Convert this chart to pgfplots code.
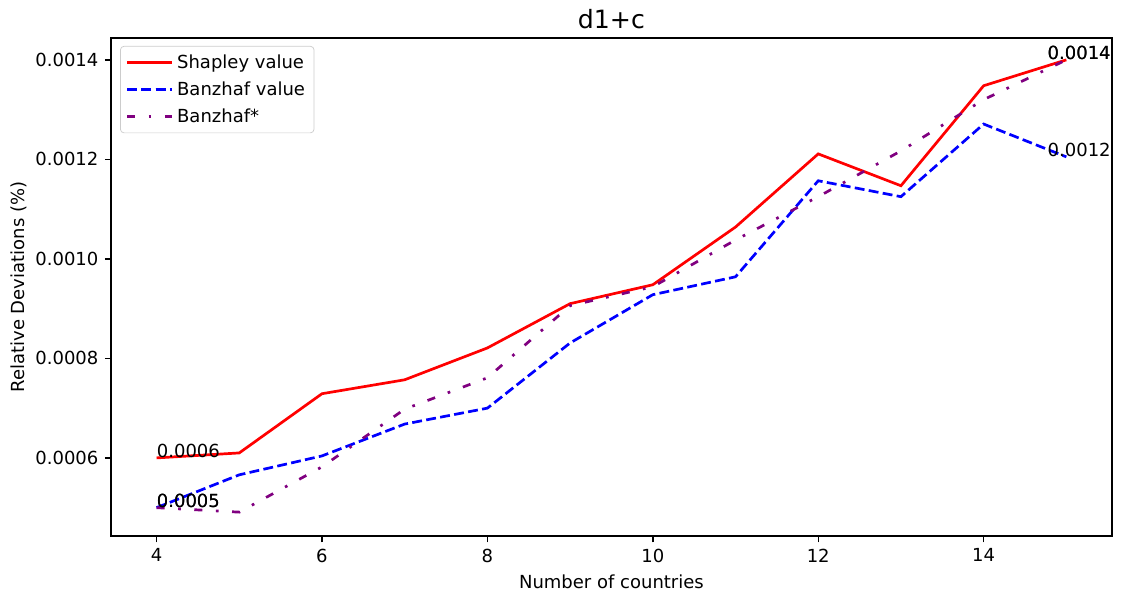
\documentclass[border=0pt]{standalone}
\usepackage{fontspec}
\setmainfont{DejaVu Sans}
\usepackage{pgfplots}
\pgfplotsset{compat=1.18}

\definecolor{mplpurple}{RGB}{128,0,128}

\begin{document}
\begin{tikzpicture}
\useasboundingbox (-61.7pt,-32.8pt) rectangle (563.3pt,297.8pt);
\begin{axis}[
    scale only axis,
    width=556pt, height=276.7pt,
    xmin=3.45, xmax=15.55, ymin=0.000443, ymax=0.001444,
    xtick={4,6,8,10,12,14},
    ytick={0.0006,0.0008,0.0010,0.0012,0.0014},
    scaled y ticks=false,
    yticklabel style={/pgf/number format/.cd, fixed, fixed zerofill, precision=4},
    /pgf/number format/assume math mode=true,
    tick align=outside,
    xtick pos=bottom, ytick pos=left,
    major tick length=3.5pt,
    tick style={black, line width=0.8pt},
    axis line style={line width=0.8pt},
    tick label style={font=\fontsize{10}{12}\selectfont},
    label style={font=\fontsize{10}{12}\selectfont},
    xlabel={Number of countries},
    ylabel={Relative Deviations (\%)},
    ylabel shift=-2.2pt,
    title={d1+c},
    every axis title/.style={font=\fontsize{14}{16}\selectfont, at={(0.5,1)}, anchor=base, yshift=5.5pt},
    clip=false,
    legend style={font=\fontsize{10}{12}\selectfont, draw=black!20, rounded corners=2pt,
                  at={(0.009,0.984)}, anchor=north west, row sep=1.9pt,
                  inner xsep=3pt, inner ysep=2.5pt,
                  cells={anchor=west}},
    legend image code/.code={\draw[#1] (0pt,0pt) -- (21pt,0pt);
                             \path (0pt,0pt) -- (25pt,0pt);},
    every axis plot/.append style={line width=1.5pt, line cap=butt},
  ]
\addplot[red] coordinates {
  (4,0.000600) (5,0.000610) (6,0.000729) (7,0.000757) (8,0.000821) (9,0.000910)
  (10,0.000948) (11,0.001064) (12,0.001211) (13,0.001147) (14,0.001348) (15,0.001400)};
\addlegendentry{Shapley value}
\addplot[blue, dash pattern=on 5.5pt off 2.4pt] coordinates {
  (4,0.000500) (5,0.000566) (6,0.000604) (7,0.000668) (8,0.000700) (9,0.000831)
  (10,0.000928) (11,0.000964) (12,0.001157) (13,0.001125) (14,0.001271) (15,0.001205)};
\addlegendentry{Banzhaf value}
\addplot[mplpurple, dash pattern=on 4.5pt off 7.5pt on 1.5pt off 7.5pt] coordinates {
  (4,0.000500) (5,0.000491) (6,0.000582) (7,0.000698) (8,0.000761) (9,0.000906)
  (10,0.000944) (11,0.001038) (12,0.001125) (13,0.001217) (14,0.001320) (15,0.001400)};
\addlegendentry{Banzhaf*}
\node[anchor=base west, inner sep=0pt, font=\fontsize{10}{12}\selectfont] at (axis cs:4,0.0006) {0.0006};
\node[anchor=base west, inner sep=0pt, font=\fontsize{10}{12}\selectfont] at (axis cs:4,0.0005) {0.0005};
\node[anchor=base west, inner sep=0pt, font=\fontsize{10}{12}\selectfont] at (axis cs:4,0.0005) {0.0005};
\node[anchor=base east, inner sep=0pt, font=\fontsize{10}{12}\selectfont] at (axis cs:15.54,0.0014) {0.0014};
\node[anchor=base east, inner sep=0pt, font=\fontsize{10}{12}\selectfont] at (axis cs:15.54,0.0014) {0.0014};
\node[anchor=base east, inner sep=0pt, font=\fontsize{10}{12}\selectfont] at (axis cs:15.54,0.001205) {0.0012};
\end{axis}
\end{tikzpicture}
\end{document}
